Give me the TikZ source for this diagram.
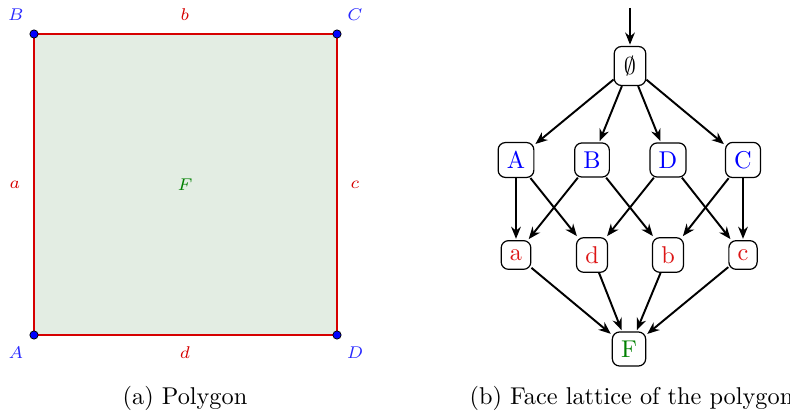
\documentclass[tikz,border=0pt]{standalone}
\usetikzlibrary{arrows.meta}
\definecolor{polyfill}{RGB}{227,237,227}
\definecolor{edgered}{RGB}{214,0,0}
\definecolor{vblue}{RGB}{40,40,255}
\definecolor{fgreen}{RGB}{0,128,0}
\definecolor{lred}{RGB}{220,20,20}
\tikzset{
  face/.style={draw=black, line width=0.5pt, rounded corners=3pt, inner sep=3.6pt},
  lbl/.style={font=\scriptsize},
  vdot/.style={circle, fill=blue, draw=black, line width=0.3pt, inner sep=0pt, minimum size=3.4pt},
  arr/.style={-{Stealth[length=5pt,width=4pt]}, line width=0.8pt, shorten >=0.5pt}
}
\begin{document}
\begin{tikzpicture}[x=0.4115pt,y=-0.4115pt]
\useasboundingbox (0,0) rectangle (790,416);
% polygon
\coordinate (pA) at (34,335);
\coordinate (pB) at (34,34);
\coordinate (pC) at (337,34);
\coordinate (pD) at (337,335);
\fill[polyfill] (pA) -- (pB) -- (pC) -- (pD) -- cycle;
\draw[edgered, line width=1.2pt] (pA) -- (pB) -- (pC) -- (pD) -- cycle;
\node[vdot] (dA) at (pA) {};
\node[vdot] (dB) at (pB) {};
\node[vdot] (dC) at (pC) {};
\node[vdot] (dD) at (pD) {};
\node[lbl, text=vblue] (lB) at (16,15) {$B$};
\node[lbl, text=vblue] (lC) at (355,15) {$C$};
\node[lbl, text=vblue] (lA) at (16,353) {$A$};
\node[lbl, text=vblue] (lD) at (355,353) {$D$};
\node[lbl, text=edgered] (lb) at (185,15) {$b$};
\node[lbl, text=edgered] (la) at (15,185) {$a$};
\node[lbl, text=edgered] (lc) at (355,185) {$c$};
\node[lbl, text=edgered] (ld) at (185,353) {$d$};
\node[lbl, text=fgreen] (lF) at (185,185) {$F$};
\node (capa) at (185,398) {(a) Polygon};
% lattice
\coordinate (top) at (630,8);
\node[face, inner sep=4pt] (e) at (630,66) {$\emptyset$};
\node[face, text=blue] (A) at (516,160) {A};
\node[face, text=blue] (B) at (592,160) {B};
\node[face, text=blue] (D) at (668,160) {D};
\node[face, text=blue] (C) at (743,160) {C};
\node[face, text=lred] (a) at (516,255) {a};
\node[face, text=lred] (d) at (592,255) {d};
\node[face, text=lred] (b) at (668,255) {b};
\node[face, text=lred] (c) at (743,255) {c};
\node[face, text=fgreen] (F) at (629,349) {F};
\draw[arr] (top) -- (e);
\foreach \t in {A,B,D,C} \draw[arr] (e) -- (\t);
\draw[arr] (A) -- (a);
\draw[arr] (A) -- (d);
\draw[arr] (B) -- (a);
\draw[arr] (B) -- (b);
\draw[arr] (D) -- (d);
\draw[arr] (D) -- (c);
\draw[arr] (C) -- (b);
\draw[arr] (C) -- (c);
\foreach \s in {a,d,b,c} \draw[arr] (\s) -- (F);
\node[anchor=west] (capb) at (461,398) {(b) Face lattice of the polygon};
\end{tikzpicture}
\end{document}
